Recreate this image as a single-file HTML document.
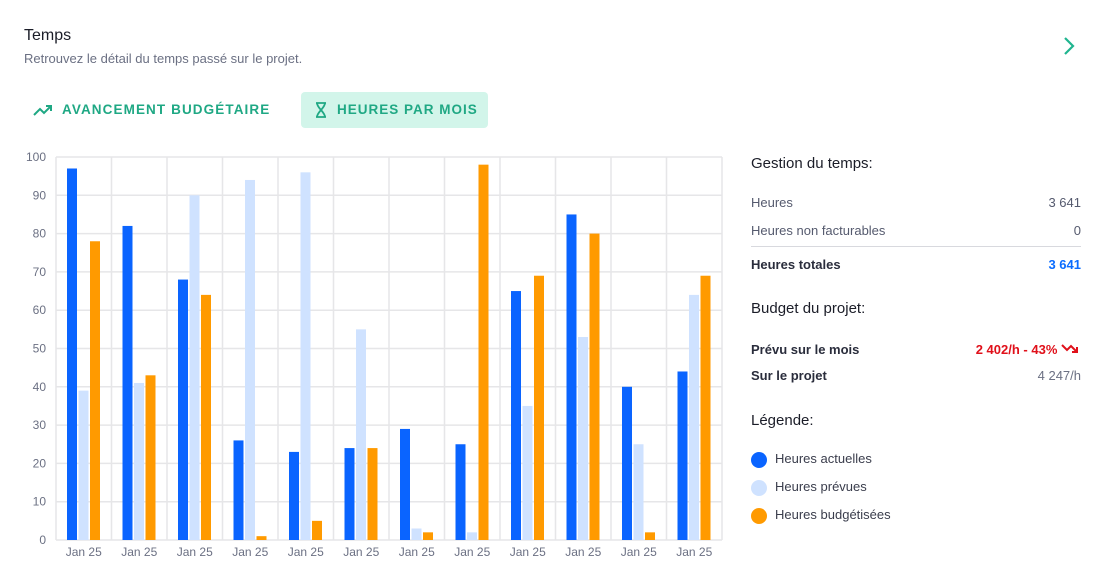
<!DOCTYPE html>
<html><head><meta charset="utf-8"><style>
body{margin:0;width:1105px;height:584px;background:#fff;font-family:"Liberation Sans",sans-serif;position:relative;overflow:hidden}
.a{position:absolute;white-space:nowrap}
.row{position:absolute;left:751px;width:330px;font-size:13px;color:#555a6e}
.row span.r{position:absolute;right:0}
</style></head><body>
<div class="a" style="left:24px;top:27px;font-size:16px;color:#1b1d28">Temps</div>
<div class="a" style="left:24px;top:51px;font-size:13px;color:#6b7083">Retrouvez le détail du temps passé sur le projet.</div>
<svg class="a" style="left:1062px;top:36px" width="16" height="20"><path d="M3 2 L11 10 L3 18" fill="none" stroke="#1fb58f" stroke-width="2.2"/></svg>
<div class="a" style="left:33px;top:92px;height:36px;line-height:36px;font-size:13.5px;letter-spacing:1.1px;color:#1fa884;font-weight:bold">
<svg width="20" height="14" style="vertical-align:middle;margin-right:9px"><path d="M1 12 L7 6 L11 10 L18 3 M13 3 L18 3 L18 8" fill="none" stroke="#1fa884" stroke-width="2"/></svg>AVANCEMENT BUDGÉTAIRE</div>
<div class="a" style="left:301px;top:92px;width:187px;height:36px;line-height:36px;background:#d2f5ea;border-radius:4px;font-size:13.5px;letter-spacing:1px;color:#1fa884;font-weight:bold">
<svg width="14" height="16" style="vertical-align:middle;margin:0 9px 0 13px"><path d="M2 1 H12 M2 15 H12 M3 1 C3 6 11 10 11 15 M11 1 C11 6 3 10 3 15" fill="none" stroke="#1fa884" stroke-width="1.8"/></svg>HEURES PAR MOIS</div>
<svg id="chart" class="a" style="left:0;top:0" width="740" height="584"></svg>
<div class="a" style="left:751px;top:155px;font-size:15px;color:#1b1d28">Gestion du temps:</div>
<div class="row" style="top:195px">Heures<span class="r">3 641</span></div>
<div class="row" style="top:223px">Heures non facturables<span class="r">0</span></div>
<div class="a" style="left:751px;top:246px;width:330px;height:1px;background:#d8d9de"></div>
<div class="row" style="top:257px;font-weight:bold;color:#2a2d3c">Heures totales<span class="r" style="color:#0a6cff">3 641</span></div>
<div class="a" style="left:751px;top:300px;font-size:15px;color:#1b1d28">Budget du projet:</div>
<div class="row" style="top:342px;font-weight:bold;color:#2a2d3c">Prévu sur le mois<span class="r" style="color:#e0101a;right:2px">2 402/h - 43% <svg width="18" height="12"><path d="M1 3 L6 8 L10 4 L16 10 M11 10 L16 10 L16 5" fill="none" stroke="#e0101a" stroke-width="2"/></svg></span></div>
<div class="row" style="top:368px;font-weight:bold;color:#2a2d3c">Sur le projet<span class="r" style="font-weight:normal;color:#6b7083">4 247/h</span></div>
<div class="a" style="left:751px;top:412px;font-size:15px;color:#1b1d28">Légende:</div>
<div class="a" style="left:751px;top:451px;font-size:13px;color:#3a3d4c"><span style="display:inline-block;width:16px;height:16px;border-radius:50%;background:#0a64ff;vertical-align:middle;margin-right:8px"></span>Heures actuelles</div>
<div class="a" style="left:751px;top:479px;font-size:13px;color:#3a3d4c"><span style="display:inline-block;width:16px;height:16px;border-radius:50%;background:#cfe2ff;vertical-align:middle;margin-right:8px"></span>Heures prévues</div>
<div class="a" style="left:751px;top:507px;font-size:13px;color:#3a3d4c"><span style="display:inline-block;width:16px;height:16px;border-radius:50%;background:#ff9a00;vertical-align:middle;margin-right:8px"></span>Heures budgétisées</div>
<script>
const categories=["Jan 25","Jan 25","Jan 25","Jan 25","Jan 25","Jan 25","Jan 25","Jan 25","Jan 25","Jan 25","Jan 25","Jan 25"];
const actuelles=[97,82,68,26,23,24,29,25,65,85,40,44];
const prevues=[39,41,90,94,96,55,3,2,35,53,25,64];
const budgetisees=[78,43,64,1,5,24,2,98,69,80,2,69];
const yTicks=[0,10,20,30,40,50,60,70,80,90,100];
const svg=document.getElementById('chart');const NS='http://www.w3.org/2000/svg';
const L=56,R=722,T=157,B=540,gw=(R-L)/categories.length;
const y=v=>B-(v/100)*(B-T);
function mk(t,a,p){const e=document.createElementNS(NS,t);for(const k in a)e.setAttribute(k,a[k]);(p||svg).appendChild(e);return e;}
yTicks.forEach(v=>{const l=mk('line',{x1:L,x2:R,y1:y(v),y2:y(v),stroke:'#e6e6e8','stroke-width':1.5});


const t=mk('text',{x:46,y:y(v)+4,'text-anchor':'end','font-size':12,fill:'#6b7083','font-family':'Liberation Sans'});t.textContent=v;

});
for(let i=0;i<=categories.length;i++){const l=mk('line',{x1:L+i*gw,x2:L+i*gw,y1:T,y2:B,stroke:'#e6e6e8','stroke-width':1.5});

}
const series=[[actuelles,'#0a64ff'],[prevues,'#cfe2ff'],[budgetisees,'#ff9a00']];
categories.forEach((c,i)=>{const gx=L+i*gw;
series.forEach(([d,col],s)=>{const r=mk('rect',{x:gx+11+s*11.5,y:y(d[i]),width:10,height:B-y(d[i]),fill:col});

});
const t=mk('text',{x:gx+gw/2,y:556,'text-anchor':'middle','font-size':12,fill:'#6b7083','font-family':'Liberation Sans'});t.textContent=c;

});
</script>
</body></html>
